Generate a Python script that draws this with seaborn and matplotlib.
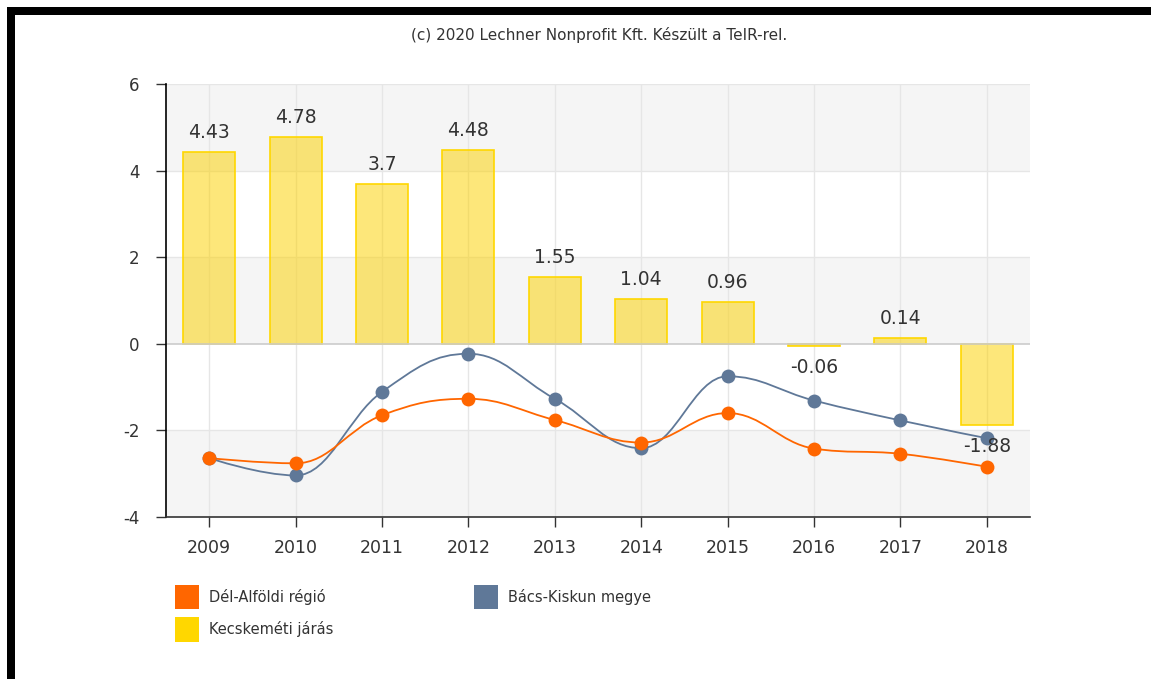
import matplotlib
matplotlib.use("Agg")
import matplotlib.pyplot as plt
import pandas as pd
import seaborn as sns
from matplotlib.patches import Patch, Rectangle, PathPatch
from matplotlib.path import Path

# --- data ---
years = ["2009", "2010", "2011", "2012", "2013", "2014", "2015", "2016", "2017", "2018"]
kecskemet = [4.43, 4.78, 3.7, 4.48, 1.55, 1.04, 0.96, -0.06, 0.14, -1.88]
del_alfold = [-2.64, -2.76, -1.65, -1.27, -1.76, -2.28, -1.60, -2.42, -2.54, -2.84]
bacs_kiskun = [-2.64, -3.04, -1.11, -0.23, -1.27, -2.41, -0.75, -1.31, -1.77, -2.18]

C_ORANGE = "#ff6600"
C_BLUE = "#5f7898"
C_GOLD = "#ffd700"
C_TEXT = "#333333"


def spline_path(xs, ys, smoothing=1.5):
    """Highcharts-like spline through the points (drawing only)."""
    n = len(xs)
    denom = smoothing + 1
    left = [None] * n
    right = [None] * n
    for i in range(1, n - 1):
        x, y = xs[i], ys[i]
        lx, ly = xs[i - 1], ys[i - 1]
        nx, ny = xs[i + 1], ys[i + 1]
        lcx = (smoothing * x + lx) / denom
        lcy = (smoothing * y + ly) / denom
        rcx = (smoothing * x + nx) / denom
        rcy = (smoothing * y + ny) / denom
        if rcx != lcx:
            corr = (rcy - lcy) * (rcx - x) / (rcx - lcx) + y - rcy
            lcy += corr
            rcy += corr
        if lcy > ly and lcy > y:
            lcy = max(ly, y)
            rcy = 2 * y - lcy
        elif lcy < ly and lcy < y:
            lcy = min(ly, y)
            rcy = 2 * y - lcy
        if rcy > ny and rcy > y:
            rcy = max(ny, y)
            lcy = 2 * y - rcy
        elif rcy < ny and rcy < y:
            rcy = min(ny, y)
            lcy = 2 * y - rcy
        left[i] = (lcx, lcy)
        right[i] = (rcx, rcy)
    left[0] = right[0] = (xs[0], ys[0])
    left[-1] = right[-1] = (xs[-1], ys[-1])
    verts = [(xs[0], ys[0])]
    codes = [Path.MOVETO]
    for i in range(1, n):
        verts += [right[i - 1], left[i], (xs[i], ys[i])]
        codes += [Path.CURVE4] * 3
    return Path(verts, codes)


def main() -> None:
    sns.set_theme(style="white")
    plt.rcParams.update({
        "font.family": ["DejaVu Sans"],
        "axes.unicode_minus": False,
    })

    df = pd.DataFrame({"year": years, "value": kecskemet})

    fig = plt.figure(figsize=(11.51, 6.79), dpi=100)
    ax = fig.add_axes([166 / 1151, 1 - 517 / 679, (1030 - 166) / 1151, (517 - 84) / 679])

    sns.barplot(data=df, x="year", y="value", width=0.6,
                color=C_GOLD, edgecolor=C_GOLD, linewidth=1.2,
                saturation=1, ax=ax, zorder=2)
    for cont in ax.containers:
        for bar in cont:
            bar.set_facecolor((0.99, 0.82, 0.0, 0.52))

    ax.set_xlim(-0.5, len(years) - 0.5)
    ax.set_ylim(-4, 6)

    # alternating bands and grid
    for lo in (-4, 0, 4):
        ax.axhspan(lo, lo + 2, color="#f5f5f5", zorder=0, lw=0)
    for yv in (-2, 2, 4, 6):
        ax.axhline(yv, color="#e6e6e6", lw=1, zorder=0.5)
    for xv in range(len(years)):
        ax.axvline(xv, color="#e6e6e6", lw=1, zorder=0.5)
    ax.axhline(0, color="#cccccc", lw=1.2, zorder=2.5)

    xs = list(range(len(years)))
    for vals, col in ((bacs_kiskun, C_BLUE), (del_alfold, C_ORANGE)):
        ax.add_patch(PathPatch(spline_path(xs, vals), facecolor="none",
                               edgecolor=col, lw=1.3, zorder=3))
        ax.plot(xs, vals, ls="none", marker="o", ms=10, color=col,
                markeredgewidth=0, zorder=4)

    # bar value labels
    for x, v in zip(xs, kecskemet):
        off = 14 if v >= 0 else -15
        ax.annotate(f"{v:g}", (x, v), xytext=(0, off), textcoords="offset points",
                    ha="center", va="center", fontsize=13.5, color=C_TEXT, zorder=5)

    ax.set_yticks([-4, -2, 0, 2, 4, 6])
    ax.set_xticks(xs)
    ax.set_xticklabels(years)
    ax.set_xlabel("")
    ax.set_ylabel("")
    ax.tick_params(axis="both", labelsize=12.5, colors=C_TEXT, length=7, width=1,
                   direction="out", left=True, bottom=True)
    ax.tick_params(axis="y", pad=12, labelsize=12)
    ax.tick_params(axis="x", pad=9)
    for side in ("top", "right"):
        ax.spines[side].set_visible(False)
    ax.spines["left"].set_color("#000000")
    ax.spines["bottom"].set_color("#333333")
    for side in ("left", "bottom"):
        ax.spines[side].set_linewidth(1.2)

    fig.text(599 / 1151, 1 - 35 / 679, "(c) 2020 Lechner Nonprofit Kft. Készült a TeIR-rel.",
             ha="center", va="center", fontsize=11, color=C_TEXT)

    handles = [
        Patch(facecolor=C_ORANGE, edgecolor="none", label="Dél-Alföldi régió"),
        Patch(facecolor=C_GOLD, edgecolor="none", label="Kecskeméti járás"),
        Patch(facecolor=C_BLUE, edgecolor="none", label="Bács-Kiskun megye"),
    ]
    fig.legend(handles=handles, ncol=2, loc="upper left",
               bbox_to_anchor=(172 / 1151, 1 - 582 / 679), frameon=False,
               fontsize=10.5, handlelength=1.65, handleheight=2.2,
               handletextpad=0.7, labelspacing=0.55, columnspacing=9.6,
               labelcolor=C_TEXT, borderpad=0.2, borderaxespad=0)

    # black frame pieces (top and left)
    fig.add_artist(Rectangle((7 / 1151, 0), 8 / 1151, 1 - 7 / 679,
                             transform=fig.transFigure, color="black", lw=0))
    fig.add_artist(Rectangle((7 / 1151, 1 - 15 / 679), 1 - 7 / 1151, 8 / 679,
                             transform=fig.transFigure, color="black", lw=0))

    fig.savefig("out.png", dpi=100, facecolor="white")


if __name__ == "__main__":
    main()
